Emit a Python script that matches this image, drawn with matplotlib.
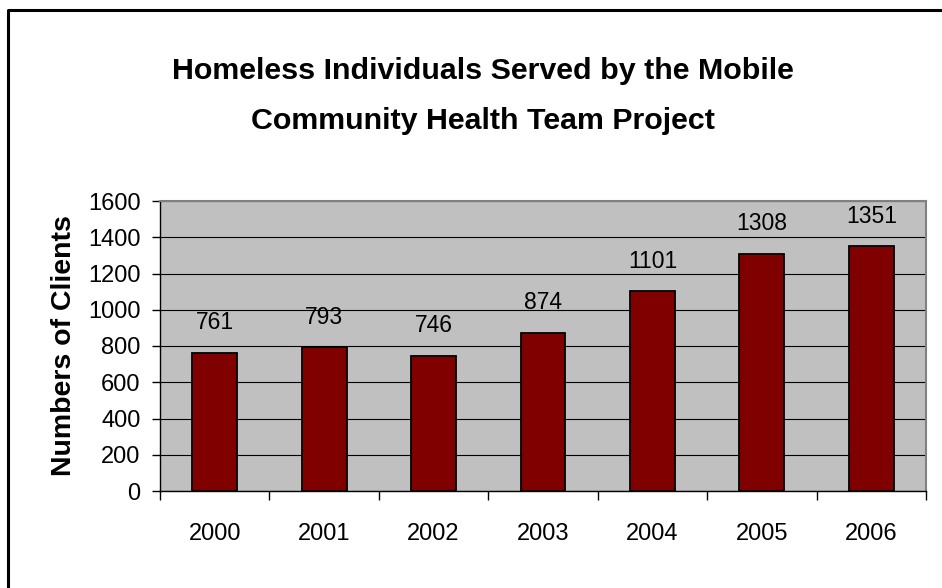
import matplotlib
matplotlib.use("Agg")
import matplotlib.pyplot as plt
from matplotlib.lines import Line2D

plt.rcParams['font.family'] = ['Liberation Sans', 'DejaVu Sans']

years = ['2000', '2001', '2002', '2003', '2004', '2005', '2006']
clients = [761, 793, 746, 874, 1101, 1308, 1351]
y_ticks = [0, 200, 400, 600, 800, 1000, 1200, 1400, 1600]
title_lines = ['Homeless Individuals Served by the Mobile', 'Community Health Team Project']

W, H = 942, 588
fig = plt.figure(figsize=(W / 100, H / 100), dpi=100)
fig.patch.set_facecolor('white')

# plot area in pixel terms
left, right, top, bottom = 160, 926, 201, 491
ax = fig.add_axes([left / W, 1 - bottom / H, (right - left) / W, (bottom - top) / H])
ax.set_facecolor('#C0C0C0')

x = list(range(len(years)))
ax.bar(x, clients, width=0.41, color='#800000', edgecolor='black', linewidth=1.3, zorder=3)

for xi, v in zip(x, clients):
    ax.annotate(str(v), (xi, v), xytext=(0, 17), textcoords='offset points',
                ha='center', va='baseline', fontsize=16.5, zorder=4)

ax.set_xlim(-0.5, len(years) - 0.5)
ax.set_ylim(0, 1600)
ax.set_yticks(y_ticks)
ax.set_yticklabels([str(t) for t in y_ticks], fontsize=17)
ax.tick_params(axis='y', direction='out', length=6, width=1, pad=8)
ax.yaxis.grid(True, color='black', linewidth=0.8, zorder=1)
ax.set_axisbelow(True)

# category boundaries get the tick marks, centres get the labels
ax.set_xticks([i - 0.5 for i in range(len(years) + 1)])
ax.set_xticklabels([])
ax.set_xticks(x, minor=True)
ax.set_xticklabels(years, minor=True, fontsize=17)
ax.tick_params(axis='x', which='major', direction='out', length=6.5, width=1)
ax.tick_params(axis='x', which='minor', length=0, pad=23)

for side in ['top', 'right']:
    ax.spines[side].set_color('#808080')
    ax.spines[side].set_linewidth(1.5)
for side in ['left', 'bottom']:
    ax.spines[side].set_color('black')
    ax.spines[side].set_linewidth(1)

ax.set_ylabel('Numbers of Clients', fontsize=20.5, fontweight='bold', labelpad=8)

for line, base in zip(title_lines, [79, 129]):
    fig.text(483 / W, 1 - base / H, line, ha='center', va='baseline',
             fontsize=21.9, fontweight='bold')

# outer chart frame (only left and top edges fall inside the image)
bx, by = 8 / W, 1 - 10 / H
fig.add_artist(Line2D([bx, bx, 1.0], [0.0, by, by], transform=fig.transFigure,
                      color='black', linewidth=2.2))

fig.savefig('out.png', dpi=100)
